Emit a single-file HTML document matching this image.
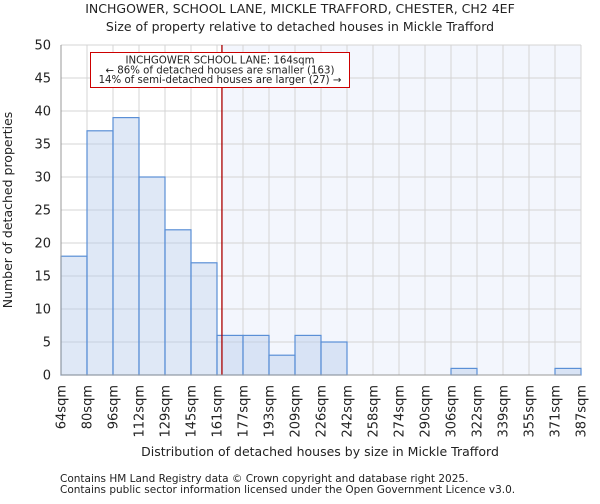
<!DOCTYPE html>
<html><head><meta charset="utf-8"><style>
body{margin:0;background:#fff;font-family:"DejaVu Sans","Liberation Sans",sans-serif}
text{font-family:"DejaVu Sans","Liberation Sans",sans-serif;fill:#222}
</style></head><body>
<svg id="chart" width="600" height="500" xmlns="http://www.w3.org/2000/svg">
<text x="300" y="13" text-anchor="middle" font-size="12.5">INCHGOWER, SCHOOL LANE, MICKLE TRAFFORD, CHESTER, CH2 4EF</text>
<text x="300" y="31" text-anchor="middle" font-size="12.5">Size of property relative to detached houses in Mickle Trafford</text>
<g id="plot"></g>
<text x="320" y="456" text-anchor="middle" font-size="12.5">Distribution of detached houses by size in Mickle Trafford</text>
<text transform="translate(12,210) rotate(-90)" text-anchor="middle" font-size="12.5">Number of detached properties</text>
<text x="60" y="482" font-size="10.5">Contains HM Land Registry data © Crown copyright and database right 2025.</text>
<text x="60" y="493" font-size="10.5">Contains public sector information licensed under the Open Government Licence v3.0.</text>
</svg>
<script>
const tickLabels=["64sqm","80sqm","96sqm","112sqm","129sqm","145sqm","161sqm","177sqm","193sqm","209sqm","226sqm","242sqm","258sqm","274sqm","290sqm","306sqm","322sqm","339sqm","355sqm","371sqm","387sqm"];
const counts=[18,37,39,30,22,17,6,6,3,6,5,0,0,0,0,1,0,0,0,1];
const yTicks=[0,5,10,15,20,25,30,35,40,45,50];
const markerBin=6.19;
const NS="http://www.w3.org/2000/svg";
const L=61,R=581,T=45,B=375,yMax=50;
const bw=(R-L)/counts.length;
const xs=i=>L+i*bw;
const ys=v=>B-(v/yMax)*(B-T);
const g=document.getElementById('plot');
function mk(t,a){const e=document.createElementNS(NS,t);for(const k in a)e.setAttribute(k,a[k]);g.appendChild(e);return e;}
const mx=xs(markerBin);
let e=mk('rect',{x:mx,y:T,width:R-mx,height:B-T,fill:'#f3f6fd'});


yTicks.forEach(v=>{
 const l=mk('line',{x1:L,x2:R,y1:ys(v),y2:ys(v),stroke:'#d4d4d4','stroke-width':1});
 
 
 const t=mk('text',{x:L-10,y:ys(v)+4.5,'text-anchor':'end','font-size':13});
 t.textContent=v;
 
 
});
tickLabels.forEach((s,i)=>{
 const x=xs(i);
 const l=mk('line',{x1:x,x2:x,y1:T,y2:B,stroke:'#d4d4d4','stroke-width':1});
 
 
 const t=mk('text',{x:0,y:0,'text-anchor':'end','font-size':13,transform:`translate(${x+4.5},${B+10}) rotate(-90)`});
 t.textContent=s;
 
 
});
counts.forEach((v,i)=>{
 if(v<=0)return;
 const r=mk('rect',{x:xs(i),y:ys(v),width:bw,height:B-ys(v),fill:'rgba(183,204,234,0.45)',stroke:'#5a8fd6','stroke-width':1.2});
 
 
});
e=mk('line',{x1:mx,x2:mx,y1:T,y2:B,stroke:'#aa0000','stroke-width':1.3});


e=mk('rect',{x:90.5,y:52.5,width:259,height:35,fill:'#fff',stroke:'#cc0000','stroke-width':1});


["INCHGOWER SCHOOL LANE: 164sqm","← 86% of detached houses are smaller (163)","14% of semi-detached houses are larger (27) →"].forEach((s,i)=>{
 const t=mk('text',{x:220,y:63.5+i*9.8,'text-anchor':'middle','font-size':10.2});
 t.textContent=s;
 
 
});
e=mk('line',{x1:L,x2:L,y1:T,y2:B,stroke:'#999','stroke-width':1});


e=mk('line',{x1:L,x2:R,y1:B,y2:B,stroke:'#999','stroke-width':1});


</script>
</body></html>
